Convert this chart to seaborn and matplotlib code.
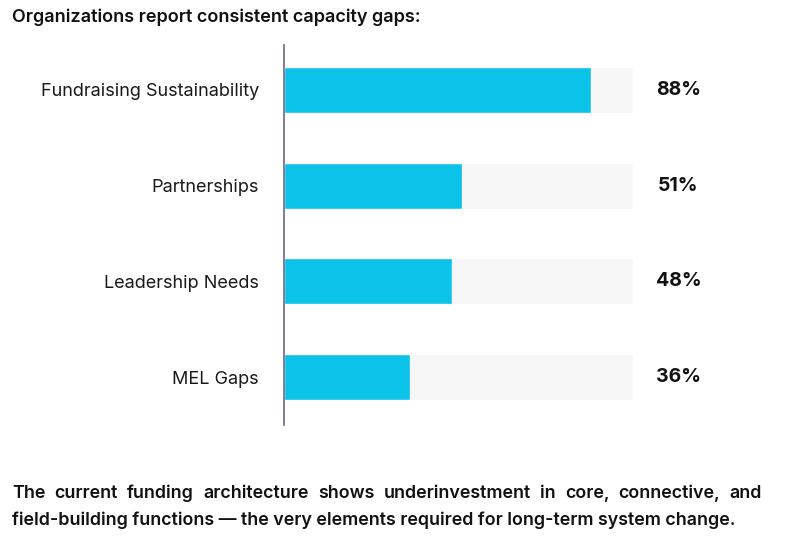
import numpy as np
import pandas as pd
import matplotlib
matplotlib.use('Agg')
import matplotlib.pyplot as plt
import seaborn as sns

# ## data
categories = ['Fundraising Sustainability', 'Partnerships', 'Leadership Needs', 'MEL Gaps']
values = [88, 51, 48, 36]
track = [100, 100, 100, 100]

title = 'Organizations report consistent capacity gaps:'
footer_1 = 'The current funding architecture shows underinvestment in core, connective, and'
footer_2 = 'field-building functions \u2014 the very elements required for long-term system change.'

df = pd.DataFrame({'category': categories, 'value': values, 'track': track})

sns.set_theme(style='white')
plt.rcParams['font.family'] = ['Inter', 'DejaVu Sans']

fig = plt.figure(figsize=(8.02, 5.37), dpi=100)
ax = fig.add_axes([284 / 802, 1 - 425 / 537, 349 / 802, (425 - 45) / 537])

sns.barplot(data=df, y='category', x='track', color='#f6f6f6', width=0.48,
            orient='h', ax=ax, saturation=1)
sns.barplot(data=df, y='category', x='value', color='#0bc2e8', width=0.48,
            orient='h', ax=ax, saturation=1)

ax.set_xlim(0, 100)
ax.set_ylim(3.5, -0.47)
ax.set_xlabel('')
ax.set_ylabel('')
ax.set_xticks([])
ax.tick_params(axis='y', length=0, pad=18, labelsize=13, labelcolor='#1a1a1a')
for s in ['top', 'right', 'bottom']:
    ax.spines[s].set_visible(False)
ax.spines['left'].set_color('#6b6585')
ax.spines['left'].set_linewidth(1.2)

for i, v in enumerate(values):
    ax.text(113, i, f'{v}%', ha='center', va='center', fontsize=14,
            fontweight='bold', color='#111111', clip_on=False)

txt = dict(ha='left', va='center', fontweight='semibold', color='#111111')
fig.text(12 / 802, 1 - 17 / 537, title, fontsize=13, **txt)

# first footer line is justified between x=12 and x=762
renderer = fig.canvas.get_renderer()
words = footer_1.split(' ')
pieces = [fig.text(0, 1 - 493 / 537, w, fontsize=12.85, **txt) for w in words]
widths = [p.get_window_extent(renderer).width for p in pieces]
gap = (750 - sum(widths)) / (len(words) - 1)
x = 12
for p, w in zip(pieces, widths):
    p.set_x(x / 802)
    x += w + gap

fig.text(12 / 802, 1 - 520 / 537, footer_2, fontsize=12.85, **txt)

fig.savefig('out.png', dpi=100)
